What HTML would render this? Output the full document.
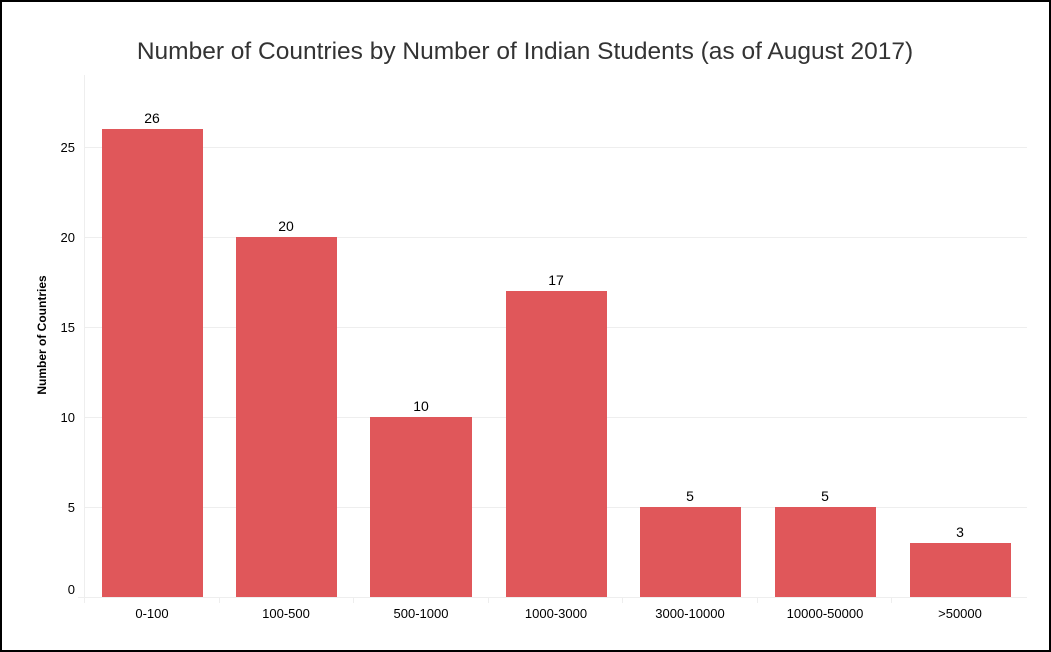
<!DOCTYPE html>
<html><head><style>
html,body{margin:0;padding:0;background:#fff}
svg{display:block;font-family:"Liberation Sans",sans-serif}
</style></head><body>
<svg width="1051" height="652" xmlns="http://www.w3.org/2000/svg">
<rect x="1" y="1" width="1049" height="650" fill="#fff" stroke="#000" stroke-width="2"/>
<text x="525" y="59" text-anchor="middle" font-size="24.5" fill="#333">Number of Countries by Number of Indian Students (as of August 2017)</text>
<g stroke="#eeeeee" stroke-width="1">
<line x1="84" y1="147.5" x2="1027" y2="147.5"/>
<line x1="84" y1="237.5" x2="1027" y2="237.5"/>
<line x1="84" y1="327.5" x2="1027" y2="327.5"/>
<line x1="84" y1="417.5" x2="1027" y2="417.5"/>
<line x1="84" y1="507.5" x2="1027" y2="507.5"/>
<line x1="78" y1="597.5" x2="1027" y2="597.5"/>
<line x1="84.5" y1="75" x2="84.5" y2="603"/>
<line x1="219.5" y1="597" x2="219.5" y2="603"/>
<line x1="353.5" y1="597" x2="353.5" y2="603"/>
<line x1="488.5" y1="597" x2="488.5" y2="603"/>
<line x1="622.5" y1="597" x2="622.5" y2="603"/>
<line x1="757.5" y1="597" x2="757.5" y2="603"/>
<line x1="891.5" y1="597" x2="891.5" y2="603"/>
</g>
<g font-size="13" fill="#000" text-anchor="end">
<text x="75" y="152">25</text><text x="75" y="242">20</text><text x="75" y="332">15</text>
<text x="75" y="422">10</text><text x="75" y="512">5</text><text x="75" y="594">0</text>
</g>
<text transform="translate(46,335) rotate(-90)" text-anchor="middle" font-size="12" font-weight="bold" fill="#000">Number of Countries</text>
<g fill="#e0575a">
<rect x="102" y="129" width="101" height="468"/>
<rect x="236" y="237" width="101" height="360"/>
<rect x="370" y="417" width="102" height="180"/>
<rect x="506" y="291" width="101" height="306"/>
<rect x="640" y="507" width="101" height="90"/>
<rect x="775" y="507" width="101" height="90"/>
<rect x="910" y="543" width="101" height="54"/>
</g>
<g font-size="14" fill="#000" text-anchor="middle">
<text x="152" y="123">26</text><text x="286" y="231">20</text><text x="421" y="411">10</text>
<text x="556" y="285">17</text><text x="690" y="501">5</text><text x="825" y="501">5</text><text x="960" y="537">3</text>
</g>
<g font-size="13" fill="#000" text-anchor="middle">
<text x="152" y="618">0-100</text><text x="286" y="618">100-500</text><text x="421" y="618">500-1000</text>
<text x="556" y="618">1000-3000</text><text x="690" y="618">3000-10000</text><text x="825" y="618">10000-50000</text><text x="960" y="618">&gt;50000</text>
</g>
</svg>
</body></html>
